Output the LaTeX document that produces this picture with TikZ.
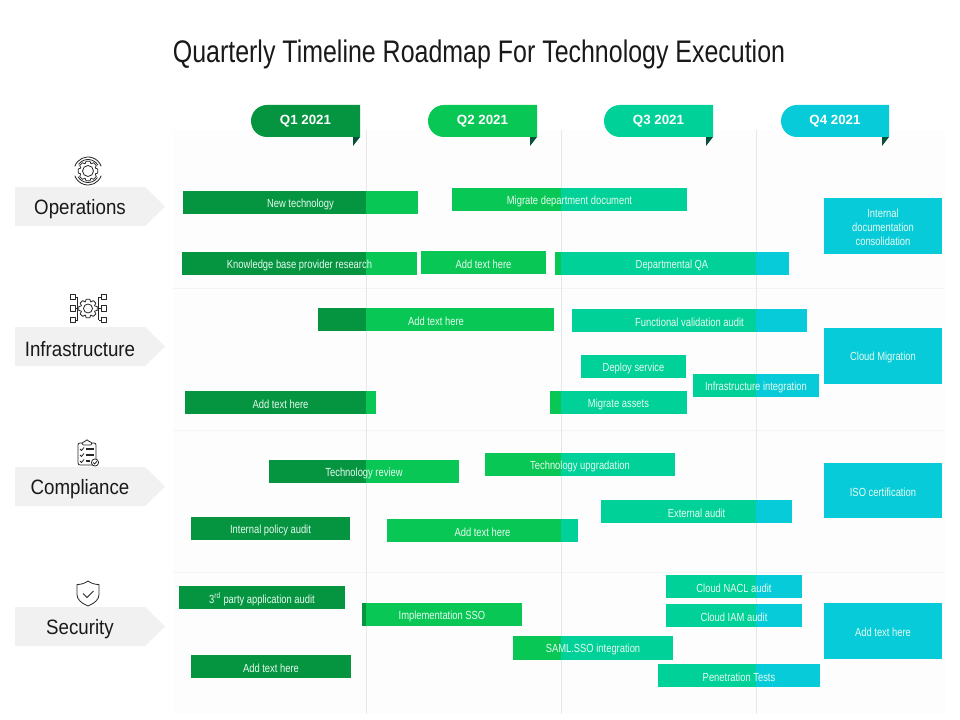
\documentclass[tikz,border=0pt]{standalone}
\usepackage{fontspec}
\usepackage{tikz}
\usetikzlibrary{fit}
\setmainfont{Liberation Sans}
\newfontfamily\narrowfont[FakeStretch=0.8]{Liberation Sans}
\newfontfamily\rowfont[FakeStretch=0.9]{Liberation Sans}
\definecolor{q1}{HTML}{05943F}
\definecolor{q2}{HTML}{08C755}
\definecolor{q3}{HTML}{00D198}
\definecolor{q4}{HTML}{08CBD9}
\definecolor{flagdark}{HTML}{07503A}
\definecolor{griddot}{HTML}{FDFDFD}
\definecolor{gridline}{HTML}{E6E8E8}
\definecolor{tagfill}{HTML}{F1F1F1}
\definecolor{bartext}{HTML}{E6FBF0}

% plain bar: name, first corner, second corner, colour, text
\newcommand{\qbox}[5]{
\node[barbox,fill=#4,fit={(#2)(#3)}] (#1) {};
\node[bartxt] (#1text) at (#1.center) {#5};
}
% bar with colour changes: name, corners, colour, splits, text
\newcommand{\qbar}[6]{
\node[barbox,fill=#4,fit={(#2)(#3)}] (#1) {};
\foreach \s/\c in {#5} {
	\fill[\c] (\s,0 |- #1.north) rectangle (#1.south east);
}
\node[bartxt] (#1text) at (#1.center) {#6};
}
% quarter tag: name, left, right, colour, text
\newcommand{\qtag}[5]{
\fill[flagdark] (#3-7,137) -- (#3,137) -- (#3-7,146) -- cycle;
\fill[#4] (#2+16,137) arc (90:270:16) -- (#3,105) -- (#3,137) -- cycle;
\node[tagtext] (#1) at ({(#2+#3)/2},121) {#5};
}
% row label: name, top, text
\newcommand{\rowlabel}[3]{
\fill[tagfill] (15,#2) -- (145,#2) -- (165,#2+19.5) -- (145,#2+39) -- (15,#2+39) -- cycle;
\node[rowtext] (#1) at (80,#2+22) {#3};
}

\begin{document}
\begin{tikzpicture}[x=0.75pt,y=-0.75pt]
\tikzstyle{barbox}=[inner sep=0pt];
\tikzstyle{bartxt}=[inner sep=0pt,yshift=-1.2pt,font=\narrowfont\fontsize{8.8}{10.5}\selectfont,text=bartext,align=center];
\tikzstyle{tagtext}=[inner sep=0pt,font=\bfseries\fontsize{10}{12}\selectfont,text=white];
\tikzstyle{rowtext}=[inner sep=0pt,font=\rowfont\fontsize{15.6}{18}\selectfont,text=black!90];
\tikzstyle{icon}=[draw=black!85,line width=0.6pt,line join=round];
\useasboundingbox (0,0) rectangle (960,720);
\fill[white] (0,0) rectangle (960,720);

% background
\fill[griddot] (173,130) rectangle (945,714);
\foreach \y in {288,430,572} {
	\draw[gridline!50,line width=0.5pt] (173,\y) -- (945,\y);
}
\foreach \x in {366,561,756} {
	\draw[gridline,line width=0.7pt] (\x,130) -- (\x,714);
}

\node[inner sep=0pt,font=\narrowfont\fontsize{23.4}{27}\selectfont,text=black!90] (title) at (479,54) {Quarterly Timeline Roadmap For Technology Execution};

% quarters
\qtag{tagone}{251}{360}{q1}{Q1 2021}
\qtag{tagtwo}{428}{537}{q2}{Q2 2021}
\qtag{tagthree}{604}{713}{q3}{Q3 2021}
\qtag{tagfour}{781}{889}{q4}{Q4 2021}

% rows
\rowlabel{operations}{187}{Operations}
\rowlabel{infrastructure}{327}{Infrastructure}
\rowlabel{compliance}{467}{Compliance}
\rowlabel{security}{607}{Security}

% operations
\qbar{newtech}{183,191}{418,214}{q1}{366/q2}{New technology}
\qbar{knowledge}{182,252}{417,275}{q1}{366/q2}{Knowledge base provider research}
\qbar{migratedoc}{452,188}{687,211}{q2}{561/q3}{Migrate department document}
\qbox{addopstwo}{421,251}{546,274}{q2}{Add text here}
\qbar{deptqa}{555,252}{789,275}{q2}{561/q3,756/q4}{Departmental QA}
\qbox{internaldoc}{824,198}{942,254}{q4}{Internal\\documentation\\consolidation}

% infrastructure
\qbar{addinfraone}{318,308}{554,331}{q1}{366/q2}{Add text here}
\qbar{funcaudit}{572,309}{807,332}{q3}{756/q4}{Functional validation audit}
\qbox{deploy}{581,355}{686,378}{q3}{Deploy service}
\qbar{infraint}{693,374}{819,397}{q3}{756/q4}{Infrastructure integration}
\qbar{addinfratwo}{185,391}{376,414}{q1}{366/q2}{Add text here}
\qbar{migrateassets}{550,391}{687,414}{q2}{561/q3}{Migrate assets}
\qbox{cloudmig}{824,328}{942,384}{q4}{Cloud Migration}

% compliance
\qbar{techreview}{269,460}{459,483}{q1}{366/q2}{Technology review}
\qbar{techupgrade}{485,453}{675,476}{q2}{561/q3}{Technology upgradation}
\qbar{external}{601,500}{792,523}{q3}{756/q4}{External audit}
\qbox{policy}{191,517}{350,540}{q1}{Internal policy audit}
\qbar{addcomp}{387,519}{578,542}{q2}{561/q3}{Add text here}
\qbox{iso}{824,463}{942,518}{q4}{ISO certification}

% security
\qbox{thirdparty}{179,586}{345,609}{q1}{3\textsuperscript{rd} party application audit}
\qbar{implsso}{362,603}{522,626}{q1}{366/q2}{Implementation SSO}
\qbar{samlsso}{513,636}{673,660}{q2}{561/q3}{SAML.SSO integration}
\qbox{addsecone}{191,655}{351,678}{q1}{Add text here}
\qbar{cloudnacl}{666,575}{802,598}{q3}{756/q4}{Cloud NACL audit}
\qbar{cloudiam}{666,604}{802,627}{q3}{756/q4}{Cloud IAM audit}
\qbar{pentest}{658,664}{820,687}{q3}{756/q4}{Penetration Tests}
\qbox{addsectwo}{824,603}{942,659}{q4}{Add text here}

% gear icon
\begin{scope}[shift={(88,171)}]
\draw[icon] (20:14) arc (20:160:14);
\draw[icon] (200:14) arc (200:340:14);
\draw[icon] (35:11.5) arc (35:150:11.5);
\draw[icon] (215:11.5) arc (215:330:11.5);
\foreach \a in {0,45,...,315} {
	\draw[icon] (\a-22.5:7.8) -- (\a-11:10) -- (\a+11:10) -- (\a+22.5:7.8);
}
\draw[icon] (0,0) circle (5.5);
\end{scope}

% network gear icon
\begin{scope}[shift={(88,308.5)}]
\foreach \a in {0,45,...,315} {
	\draw[icon] (\a-22.5:7) -- (\a-11:9.5) -- (\a+11:9.5) -- (\a+22.5:7);
}
\draw[icon] (0,0) circle (4.5);
\foreach \s in {-1,1} {
	\draw[icon] (\s*10.5,-11.5) -- (\s*10.5,11.5);
	\foreach \y in {-11.5,0,11.5} {
		\draw[icon] (\s*10.5,\y) -- (\s*13,\y);
		\draw[icon] (\s*13,\y-2.7) rectangle (\s*18,\y+2.7);
	}
}
\end{scope}

% clipboard icon
\begin{scope}[shift={(87,452)}]
\draw[icon,rounded corners=1.5pt] (-4,-9) -- (-9,-9) -- (-9,13) -- (6,13);
\draw[icon,rounded corners=1.5pt] (4,-9) -- (9,-9) -- (9,7);
\draw[icon,rounded corners=1pt] (-5,-7) -- (-5,-10) -- (-2,-10) -- (0,-13) -- (2,-10) -- (5,-10) -- (5,-7) -- cycle;
\foreach \y in {-3,3,9} {
	\draw[icon] (-7,\y) -- (-5.5,\y+1.5) -- (-3,\y-1.5);
}
\draw[icon,line width=1pt] (-1.5,-3) -- (7,-3);
\draw[icon,line width=1pt] (-1.5,3) -- (7,3);
\draw[icon,line width=1pt] (-1.5,9) -- (3,9);
\draw[icon,fill=white] (8,10.5) circle (3.6);
\draw[icon] (6.3,10.5) -- (7.6,12) -- (9.9,9.2);
\end{scope}

% shield icon
\begin{scope}[shift={(88,593.5)}]
\draw[icon] (0,-12.5) .. controls (3.5,-10) and (7,-9) .. (11,-9) -- (11,1) .. controls (11,6.5) and (6,10) .. (0,12.5) .. controls (-6,10) and (-11,6.5) .. (-11,1) -- (-11,-9) .. controls (-7,-9) and (-3.5,-10) .. cycle;
\draw[icon] (-5,0) -- (-1,4) -- (5.5,-2.5);
\end{scope}
\end{tikzpicture}
\end{document}
